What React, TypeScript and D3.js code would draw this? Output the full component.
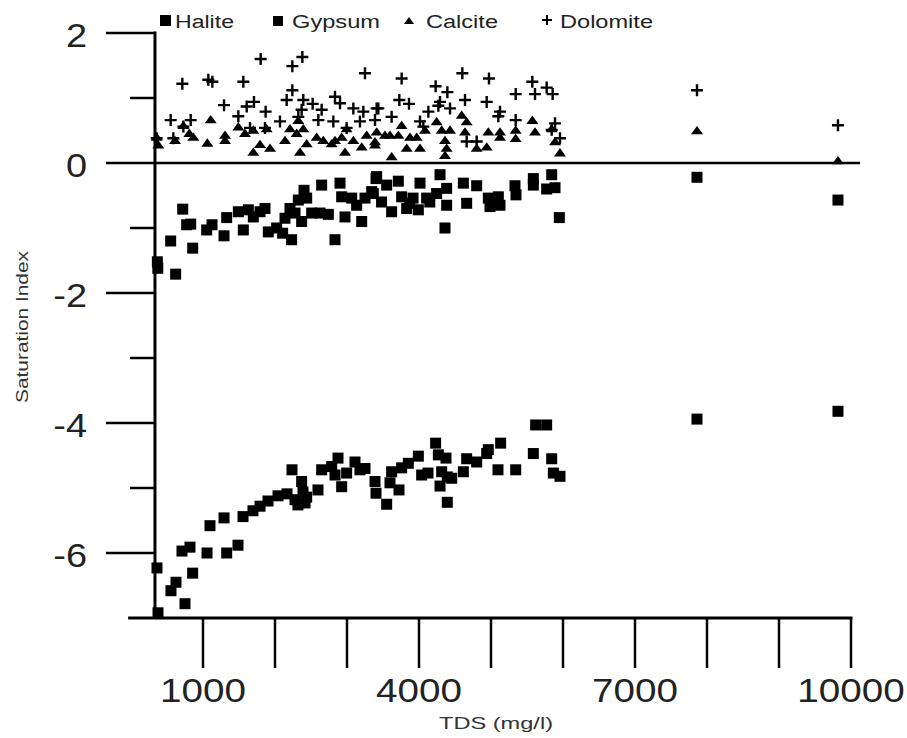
import React from "react";
import * as d3 from "d3";

// [TDS (mg/l), Saturation Index]
const halite: [number, number][] = [
  [361,-6.23],[375,-6.92],[555,-6.58],[625,-6.45],[750,-6.78],[856,-6.31],[708,-5.97],[819,-5.91],
  [1056,-6.0],[1097,-5.58],[1292,-5.46],[1329,-6.0],[1486,-5.88],[1556,-5.44],[1694,-5.35],[1792,-5.28],
  [1903,-5.2],[2042,-5.12],[2167,-5.09],[2236,-4.72],[2278,-5.18],[2370,-4.9],[2389,-5.06],[2417,-5.23],
  [2319,-5.26],[2440,-5.14],[2597,-5.03],[2648,-4.72],[2787,-4.67],[2875,-4.54],[2833,-4.8],[2926,-4.98],
  [2995,-4.77],[3111,-4.6],[3250,-4.7],[3180,-4.72],[3389,-4.9],[3403,-5.08],[3551,-5.25],[3620,-4.75],
  [3597,-4.92],[3722,-5.03],[3759,-4.69],[3852,-4.62],[3991,-4.51],[4037,-4.8],[4125,-4.77],[4231,-4.31],
  [4269,-4.49],[4375,-4.54],[4315,-4.75],[4393,-4.83],[4292,-4.97],[4393,-5.22],[4454,-4.85],[4616,-4.75],
  [4662,-4.55],[4801,-4.6],[4940,-4.47],[4963,-4.41],[5134,-4.31],[5097,-4.72],[5343,-4.72],[5588,-4.47],
  [5620,-4.03],[5773,-4.03],[5843,-4.55],[5866,-4.77],[5958,-4.82],[7861,-3.94],[9819,-3.82],
];

const gypsum: [number, number][] = [
  [366,-1.52],[372,-1.62],[620,-1.71],[551,-1.2],[718,-0.71],[773,-0.95],[829,-0.94],[857,-1.31],
  [1051,-1.03],[1125,-0.95],[1292,-1.12],[1329,-0.84],[1491,-0.75],[1560,-1.03],[1630,-0.72],[1699,-0.83],
  [1792,-0.75],[1861,-0.7],[1907,-1.06],[2023,-1.0],[2106,-1.08],[2231,-1.18],[2139,-0.85],[2208,-0.7],
  [2278,-0.77],[2324,-0.57],[2370,-0.9],[2403,-0.42],[2440,-0.54],[2509,-0.77],[2648,-0.34],[2625,-0.77],
  [2741,-0.79],[2833,-1.18],[2903,-0.31],[2926,-0.52],[2972,-0.83],[3065,-0.54],[3134,-0.65],[3204,-0.9],
  [3250,-0.54],[3343,-0.44],[3403,-0.24],[3412,-0.21],[3366,-0.47],[3551,-0.34],[3713,-0.28],[3620,-0.75],
  [3759,-0.52],[3829,-0.7],[4014,-0.31],[3991,-0.72],[4106,-0.54],[4292,-0.18],[4245,-0.47],[4384,-0.39],
  [4384,-0.65],[4361,-1.0],[4616,-0.31],[4662,-0.62],[4801,-0.35],[4963,-0.54],[4986,-0.67],[5102,-0.52],
  [5125,-0.65],[5333,-0.35],[5347,-0.49],[5588,-0.24],[5588,-0.34],[5773,-0.4],[5843,-0.18],[5889,-0.38],
  [5949,-0.84],[3917,-0.54],[3480,-0.6],[3870,-0.62],[4150,-0.6],[7861,-0.22],[9819,-0.57],
];

const calcite: [number, number][] = [
  [357,0.4],[380,0.28],[611,0.35],[727,0.58],[810,0.46],[866,0.4],[1060,0.31],[1107,0.67],
  [1306,0.43],[1306,0.35],[1491,0.56],[1583,0.46],[1699,0.51],[1699,0.17],[1792,0.29],[1931,0.23],
  [1884,0.53],[2139,0.35],[2208,0.53],[2301,0.46],[2347,0.17],[2393,0.53],[2440,0.3],[2324,0.66],
  [2579,0.4],[2671,0.35],[2787,0.3],[2926,0.4],[2972,0.17],[2995,0.53],[3088,0.35],[3204,0.25],
  [3273,0.43],[3389,0.33],[2833,0.35],[3412,0.48],[3389,0.28],[3528,0.43],[3620,0.1],[3759,0.58],
  [3713,0.43],[3829,0.23],[4014,0.23],[3968,0.4],[4083,0.51],[4245,0.64],[4315,0.51],[4361,0.35],
  [4384,0.23],[4361,0.12],[4431,0.51],[4593,0.74],[4662,0.64],[4639,0.48],[4801,0.23],[4940,0.25],
  [4963,0.48],[5125,0.48],[5125,0.4],[5343,0.51],[5343,0.38],[5574,0.66],[5611,0.48],[5843,0.53],
  [5889,0.33],[5958,0.16],[3597,0.43],[3875,0.4],[7861,0.5],[9819,0.04],
];

const dolomite: [number, number][] = [
  [713,1.22],[1074,1.28],[1130,1.25],[1560,1.25],[1801,1.6],[2241,1.49],[2380,1.63],[2241,1.12],
  [3250,1.38],[551,0.66],[829,0.66],[1292,0.89],[1491,0.72],[1607,0.87],[1708,0.94],[1870,0.79],
  [2162,0.97],[2393,0.97],[2523,0.91],[2648,0.82],[2833,1.02],[2903,0.92],[3088,0.84],[3227,0.79],
  [3412,0.84],[2069,0.64],[2324,0.71],[2602,0.66],[2810,0.64],[3180,0.64],[727,0.56],[1653,0.54],
  [1861,0.54],[357,0.38],[588,0.38],[2370,0.82],[2995,0.54],[3759,1.3],[4231,1.18],[4394,1.09],
  [4602,1.38],[4972,1.3],[5574,1.25],[5773,1.16],[5856,1.06],[5611,1.06],[5343,1.06],[3727,0.97],
  [3861,0.91],[4292,0.94],[4269,0.88],[4431,0.84],[4639,0.97],[4940,0.94],[3435,0.84],[4130,0.79],
  [5125,0.79],[5102,0.72],[3389,0.66],[3620,0.71],[4014,0.64],[5343,0.66],[5889,0.61],[4060,0.56],
  [4662,0.33],[4801,0.33],[5958,0.38],[5843,0.51],[7861,1.12],[9819,0.58],
];

const xTicks = [1000, 2000, 3000, 4000, 5000, 6000, 7000, 8000, 9000, 10000];
const xLabels = [1000, 4000, 7000, 10000];
const yMajor = [2, 0, -2, -4, -6];
const yMinor = [1, -1, -3, -5];
const legendNames = ["Halite", "Gypsum", "Calcite", "Dolomite"];

const FONT = "'Liberation Sans', Arial, Helvetica, sans-serif";

// approximate advance width for digits / minus in Liberation Sans, stretched like the reference
function numWidth(s: string, size: number, stretch: number) {
  let w = 0;
  for (const c of s) w += c === "-" ? 0.333 : 0.556;
  return w * size * stretch;
}

export default function App() {
  const W = 907, H = 738;
  const x = d3.scaleLinear().domain([0, 10000]).range([131, 851]);
  const y = d3.scaleLinear().domain([-7, 2]).range([618, 33]);
  const yAxisX = x(333);
  const xAxisY = y(-7);

  const sq = 11;
  const tri = "M0,-4.5L6,3.8L-6,3.8Z";
  const plus = "M-6,0H6M0,-6V6";

  const legendItems = [
    { name: legendNames[0], tx: 175, tw: 59 },
    { name: legendNames[1], tx: 292, tw: 88 },
    { name: legendNames[2], tx: 426, tw: 72 },
    { name: legendNames[3], tx: 560, tw: 93 },
  ];

  return (
    <div style={{ position: "absolute", left: 0, top: 0 }}>
      <svg width={W} height={H} style={{ display: "block", background: "#fff" }} fontFamily={FONT}>
        {/* zero line */}
        <line x1={yAxisX} x2={860} y1={y(0)} y2={y(0)} stroke="#000" strokeWidth={2.5} />
        {/* y axis */}
        <line x1={yAxisX} x2={yAxisX} y1={y(2) - 1.5} y2={xAxisY} stroke="#000" strokeWidth={3} />
        {yMajor.map((v) => (
          <line key={"ym" + v} x1={yAxisX - 49} x2={yAxisX} y1={y(v)} y2={y(v)} stroke="#000" strokeWidth={2.5} />
        ))}
        {yMinor.map((v) => (
          <line key={"yn" + v} x1={yAxisX - 25} x2={yAxisX} y1={y(v)} y2={y(v)} stroke="#000" strokeWidth={2.5} />
        ))}
        {yMajor.map((v) => (
          <text key={"yl" + v} x={87} y={y(v) + 2} dy="0.35em" textAnchor="end" fontSize={33} fill="#222"
            textLength={numWidth(String(v), 33, 1.15)} lengthAdjust="spacingAndGlyphs">
            {String(v)}
          </text>
        ))}
        {/* x axis */}
        <line x1={x(-40)} x2={x(10000) + 1.5} y1={xAxisY} y2={xAxisY} stroke="#000" strokeWidth={3} />
        {xTicks.map((v) => (
          <line key={"xt" + v} x1={x(v)} x2={x(v)} y1={xAxisY} y2={xAxisY + 50} stroke="#000" strokeWidth={2.5} />
        ))}
        {xLabels.map((v) => (
          <text key={"xl" + v} x={x(v)} y={702} textAnchor="middle" fontSize={33} fill="#222"
            textLength={numWidth(String(v), 33, 1.17)} lengthAdjust="spacingAndGlyphs">
            {String(v)}
          </text>
        ))}
        <text x={496} y={729} textAnchor="middle" fontSize={17} fill="#333" textLength={114} lengthAdjust="spacingAndGlyphs">
          TDS (mg/l)
        </text>
        <text transform={`translate(28,327) rotate(-90)`} textAnchor="middle" fontSize={17} fill="#333"
          textLength={152} lengthAdjust="spacingAndGlyphs">
          Saturation Index
        </text>

        {/* data */}
        {halite.map((d, i) => (
          <rect key={"h" + i} x={x(d[0]) - sq / 2} y={y(d[1]) - sq / 2} width={sq} height={sq} fill="#000" />
        ))}
        {gypsum.map((d, i) => (
          <rect key={"g" + i} x={x(d[0]) - sq / 2} y={y(d[1]) - sq / 2} width={sq} height={sq} fill="#000" />
        ))}
        {calcite.map((d, i) => (
          <path key={"c" + i} d={tri} transform={`translate(${x(d[0])},${y(d[1])})`} fill="#000" />
        ))}
        {dolomite.map((d, i) => (
          <path key={"d" + i} d={plus} transform={`translate(${x(d[0])},${y(d[1])})`} stroke="#000" strokeWidth={2.4} fill="none" />
        ))}

        {/* legend */}
        <g fontSize={18} fill="#222">
          <rect x={160} y={15} width={11} height={11} fill="#000" />
          <rect x={273} y={16} width={10} height={10} fill="#000" />
          <path d="M0,-4L5,3L-5,3Z" transform="translate(409,21)" fill="#000" />
          <path d="M-5,0H5M0,-5V5" transform="translate(547,20)" stroke="#000" strokeWidth={2} />
          {legendItems.map((it) => (
            <text key={it.name} x={it.tx} y={28} textLength={it.tw} lengthAdjust="spacingAndGlyphs">
              {it.name}
            </text>
          ))}
        </g>
      </svg>
    </div>
  );
}
